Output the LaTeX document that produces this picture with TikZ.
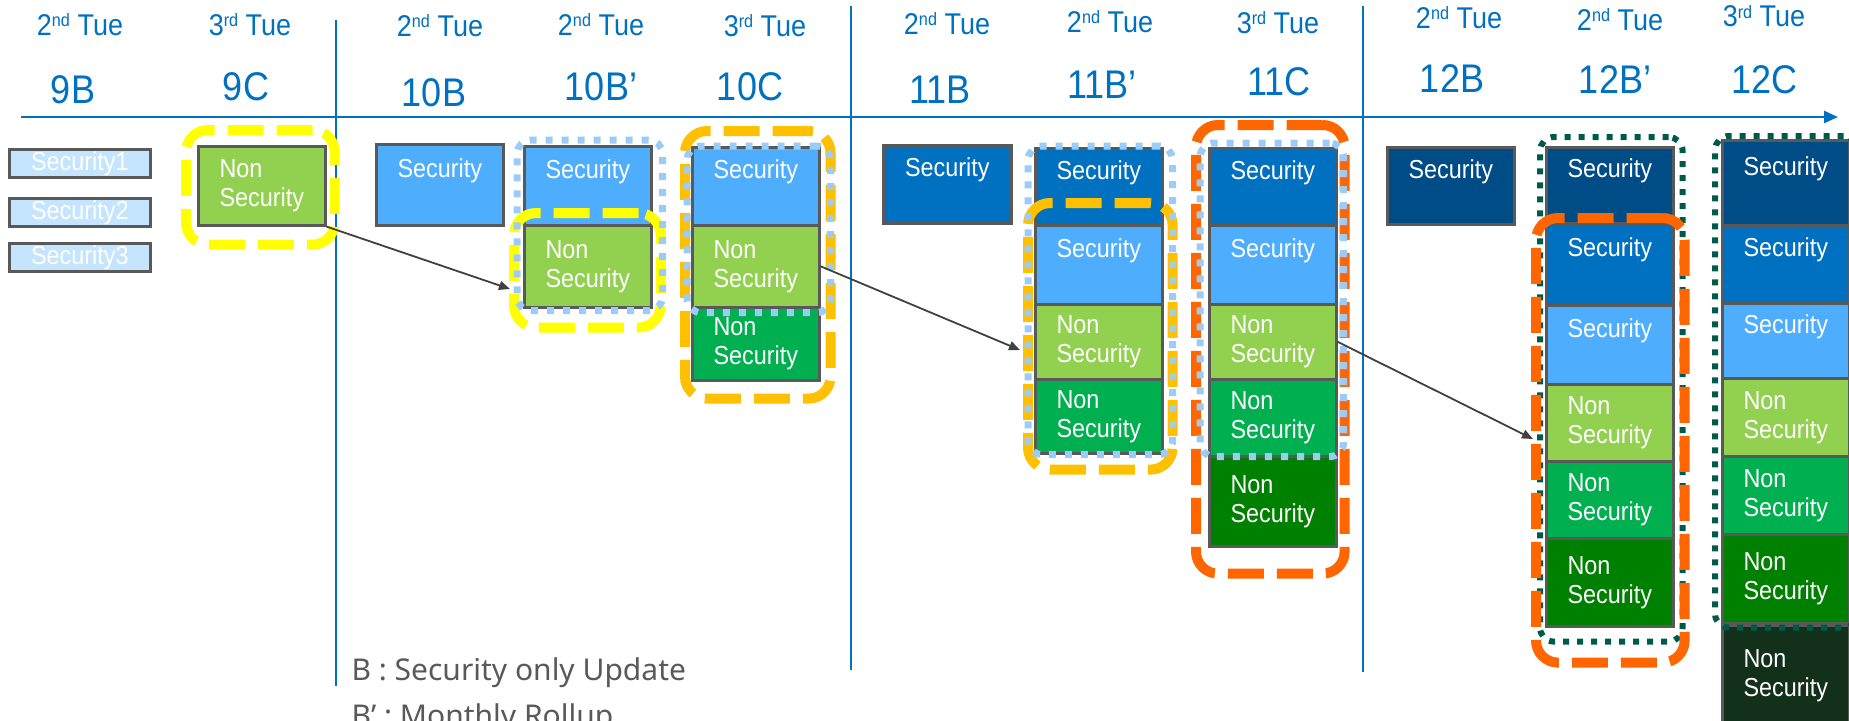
\documentclass[tikz,border=0pt]{standalone}
\usepackage{fontspec}
\setmainfont{Liberation Sans}[FakeStretch=0.9]
\newfontfamily\legendfont{Noto Sans}
\usetikzlibrary{fit,arrows.meta}
\definecolor{hdrblue}{HTML}{0070C0}
\definecolor{boxgray}{HTML}{595959}
\definecolor{pale}{HTML}{C5E4FD}
\definecolor{ltblue}{HTML}{4FADFE}
\definecolor{midblue}{HTML}{0070C0}
\definecolor{navy}{HTML}{004C86}
\definecolor{lime}{HTML}{92D050}
\definecolor{grn}{HTML}{00B050}
\definecolor{dkgrn}{HTML}{008000}
\definecolor{vdkgrn}{HTML}{13301A}
\definecolor{frYellow}{HTML}{FFFF00}
\definecolor{frAmber}{HTML}{FFC000}
\definecolor{frOrange}{HTML}{FF6600}
\definecolor{frSky}{HTML}{9DCBF8}
\definecolor{frTeal}{HTML}{005A4B}
\definecolor{arrgray}{HTML}{404040}
\newcommand\ordsup[1]{\raisebox{9pt}{\fontsize{18}{18}\selectfont #1}}
\newcommand\sectxt{Security\\\phantom{Security}}
\newcommand\nstxt{Non\\Security}

\begin{document}
\begin{tikzpicture}[x=1pt, y=-1pt,
	hdr/.style={text=hdrblue, font=\fontsize{30}{34}\selectfont, anchor=base},
	lbl/.style={text=hdrblue, font=\fontsize{40}{44}\selectfont, anchor=base},
	upd/.style={fill=#1, draw=boxgray, line width=2.6pt, anchor=north west, minimum width=127pt, inner sep=0pt, text=white, align=left, font=\fontsize{26}{29}\selectfont, execute at begin node={\rule{0pt}{23pt}}},
	old/.style={fill=pale, draw=boxgray, line width=2.6pt, anchor=north west, minimum width=141pt, minimum height=28pt, inner sep=0pt, text=white, font=\fontsize{26}{29}\selectfont},
	dashfr/.style={draw=#1, line width=10pt, dash pattern=on 36pt off 13pt, rounded corners=22pt, inner sep=0pt},
	dotfr/.style={draw=#1, line width=7pt, dash pattern=on 7pt off 9pt, rounded corners=14pt, inner sep=0pt},
	sep/.style={draw=hdrblue, line width=2.5pt},
	axis/.style={draw=hdrblue, line width=2.5pt, -{Triangle[length=14pt, width=12pt]}},
	mv/.style={draw=arrgray, line width=1.8pt, -{Triangle[length=11pt, width=9pt]}},
	legend/.style={text=boxgray, font=\legendfont\fontsize{30}{34}\selectfont, anchor=base west}]
	\path[use as bounding box] (0,0) rectangle (1849,720);
	\clip (0,0) rectangle (1849,720);

	\coordinate (axL) at (21,117);
	\coordinate (axR) at (1838,117);
	\draw[axis] (axL) -- (axR);
	\draw[sep] (336,20) -- (336,686);
	\draw[sep] (851,6) -- (851,670);
	\draw[sep] (1363,6) -- (1363,672);

	\node[hdr] (h9b) at (80,35) {2\ordsup{nd} Tue};
	\node[hdr] (h9c) at (250,35) {3\ordsup{rd} Tue};
	\node[hdr] (h10b) at (440,36) {2\ordsup{nd} Tue};
	\node[hdr] (h10bp) at (601,35) {2\ordsup{nd} Tue};
	\node[hdr] (h10c) at (765,36) {3\ordsup{rd} Tue};
	\node[hdr] (h11b) at (947,34) {2\ordsup{nd} Tue};
	\node[hdr] (h11bp) at (1110,32) {2\ordsup{nd} Tue};
	\node[hdr] (h11c) at (1278,33) {3\ordsup{rd} Tue};
	\node[hdr] (h12b) at (1459,28) {2\ordsup{nd} Tue};
	\node[hdr] (h12bp) at (1620,30) {2\ordsup{nd} Tue};
	\node[hdr] (h12c) at (1764,27) {3\ordsup{rd} Tue};

	\node[lbl] (l9b) at (73,103) {9B};
	\node[lbl] (l9c) at (246,100) {9C};
	\node[lbl] (l10b) at (434,106) {10B};
	\node[lbl] (l10bp) at (601,100) {10B’};
	\node[lbl] (l10c) at (750,100) {10C};
	\node[lbl] (l11b) at (940,103) {11B};
	\node[lbl] (l11bp) at (1102,98) {11B’};
	\node[lbl] (l11c) at (1279,95) {11C};
	\node[lbl] (l12b) at (1452,92) {12B};
	\node[lbl] (l12bp) at (1615,93) {12B’};
	\node[lbl] (l12c) at (1764,93) {12C};

	\node[old] (o1) at (8,148) {Security1};
	\node[old] (o2) at (8,197) {Security2};
	\node[old] (o3) at (8,242) {Security3};

	\node[upd=lime, minimum height=79pt] (c9) at (197,145) {\nstxt};

	\node[upd=ltblue, minimum height=81pt] (b10) at (375,143) {\sectxt};

	\node[upd=ltblue, minimum height=79pt] (b10p1) at (523,145) {\sectxt};
	\node[upd=lime, minimum height=82pt] (b10p2) at (523,224) {\nstxt};

	\node[upd=ltblue, minimum height=78pt] (b10c1) at (691,146) {\sectxt};
	\node[upd=lime, minimum height=82pt] (b10c2) at (691,224) {\nstxt};
	\node[upd=grn, minimum height=73pt] (b10c3) at (691,306) {\nstxt};

	\node[upd=midblue, minimum height=78pt, minimum width=128pt] (b11) at (882,144) {\sectxt};

	\node[upd=midblue, minimum height=77pt] (b11p1) at (1034,147) {\sectxt};
	\node[upd=ltblue, minimum height=79pt] (b11p2) at (1034,224) {\sectxt};
	\node[upd=lime, minimum height=75pt] (b11p3) at (1034,303) {\nstxt};
	\node[upd=grn, minimum height=74pt] (b11p4) at (1034,378) {\nstxt};

	\node[upd=midblue, minimum height=77pt] (b11c1) at (1208,147) {\sectxt};
	\node[upd=ltblue, minimum height=79pt] (b11c2) at (1208,224) {\sectxt};
	\node[upd=lime, minimum height=75pt] (b11c3) at (1208,303) {\nstxt};
	\node[upd=grn, minimum height=77pt] (b11c4) at (1208,378) {\nstxt};
	\node[upd=dkgrn, minimum height=90pt] (b11c5) at (1208,455) {\nstxt};

	\node[upd=navy, minimum height=77pt] (b12) at (1386,146) {\sectxt};

	\node[upd=navy, minimum height=76pt] (b12p1) at (1545,146) {\sectxt};
	\node[upd=midblue, minimum height=82pt] (b12p2) at (1545,222) {\sectxt};
	\node[upd=ltblue, minimum height=79pt] (b12p3) at (1545,304) {\sectxt};
	\node[upd=lime, minimum height=77pt] (b12p4) at (1545,383) {\nstxt};
	\node[upd=grn, minimum height=77pt] (b12p5) at (1545,460) {\nstxt};
	\node[upd=dkgrn, minimum height=88pt] (b12p6) at (1545,537) {\nstxt};

	\node[upd=navy, minimum height=85pt] (b12c1) at (1721,139) {\sectxt};
	\node[upd=midblue, minimum height=78pt] (b12c2) at (1721,224) {\sectxt};
	\node[upd=ltblue, minimum height=75pt] (b12c3) at (1721,302) {\sectxt};
	\node[upd=lime, minimum height=78pt] (b12c4) at (1721,377) {\nstxt};
	\node[upd=grn, minimum height=78pt] (b12c5) at (1721,455) {\nstxt};
	\node[upd=dkgrn, minimum height=89pt] (b12c6) at (1721,533) {\nstxt};
	\node[upd=vdkgrn, minimum height=100pt] (b12c7) at (1721,624) {\nstxt};

	\coordinate (f9c1) at ([shift={(-11,-15)}]c9.north west);
	\coordinate (f9c2) at ([shift={(8,18)}]c9.south east);
	\node[dashfr=frYellow, fit=(f9c1)(f9c2)] (f9c) {};
	\coordinate (f10py1) at ([shift={(-9,-11)}]b10p2.north west);
	\coordinate (f10py2) at ([shift={(8,19)}]b10p2.south east);
	\node[dashfr=frYellow, fit=(f10py1)(f10py2)] (f10py) {};
	\coordinate (f10pb1) at ([shift={(-6,-5)}]b10p1.north west);
	\coordinate (f10pb2) at ([shift={(10,2)}]b10p2.south east);
	\node[dotfr=frSky, fit=(f10pb1)(f10pb2)] (f10pb) {};
	\coordinate (f10ca1) at ([shift={(-6,-15)}]b10c1.north west);
	\coordinate (f10ca2) at ([shift={(10,17)}]b10c3.south east);
	\node[dashfr=frAmber, fit=(f10ca1)(f10ca2)] (f10ca) {};
	\coordinate (f10cb1) at ([shift={(-4,0)}]b10c1.north west);
	\coordinate (f10cb2) at ([shift={(10,4)}]b10c2.south east);
	\node[dotfr=frSky, fit=(f10cb1)(f10cb2)] (f10cb) {};
	\coordinate (f11pa1) at ([shift={(-6,-21)}]b11p2.north west);
	\coordinate (f11pa2) at ([shift={(9,15)}]b11p4.south east);
	\node[dashfr=frAmber, fit=(f11pa1)(f11pa2)] (f11pa) {};
	\coordinate (f11pb1) at ([shift={(-6,-1)}]b11p1.north west);
	\coordinate (f11pb2) at ([shift={(9,0)}]b11p4.south east);
	\node[dotfr=frSky, fit=(f11pb1)(f11pb2)] (f11pb) {};
	\coordinate (f11co1) at ([shift={(-12,-22)}]b11c1.north west);
	\coordinate (f11co2) at ([shift={(7,26)}]b11c5.south east);
	\node[dashfr=frOrange, fit=(f11co1)(f11co2)] (f11co) {};
	\coordinate (f11cb1) at ([shift={(-8,-4)}]b11c1.north west);
	\coordinate (f11cb2) at ([shift={(6,-1)}]b11c4.south east);
	\node[dotfr=frSky, fit=(f11cb1)(f11cb2)] (f11cb) {};
	\coordinate (f12pt1) at ([shift={(-5,-9)}]b12p1.north west);
	\coordinate (f12pt2) at ([shift={(8,14)}]b12p6.south east);
	\node[dotfr=frTeal, line width=6pt, dash pattern=on 6pt off 8pt, fit=(f12pt1)(f12pt2)] (f12pt) {};
	\coordinate (f12po1) at ([shift={(-9,-4)}]b12p2.north west);
	\coordinate (f12po2) at ([shift={(10,35)}]b12p6.south east);
	\node[dashfr=frOrange, fit=(f12po1)(f12po2)] (f12po) {};
	\coordinate (f12ct1) at ([shift={(-6,-3)}]b12c1.north west);
	\coordinate (f12ct2) at ([shift={(7,3)}]b12c6.south east);
	\node[dotfr=frTeal, line width=6pt, dash pattern=on 6pt off 8pt, fit=(f12ct1)(f12ct2)] (f12ct) {};

	\coordinate (tip1) at (510,289);
	\coordinate (tip2) at (1020,350);
	\coordinate (tip3) at (1533,439);
	\draw[mv] (c9.south east) -- (tip1);
	\draw[mv] (b10c2.east) -- (tip2);
	\draw[mv] (b11c3.east) -- (tip3);

	\node[legend] (lgb) at (348,680) {B : Security only Update};
	\node[legend] (lgbp) at (348,726) {B’ : Monthly Rollup};
\end{tikzpicture}
\end{document}
